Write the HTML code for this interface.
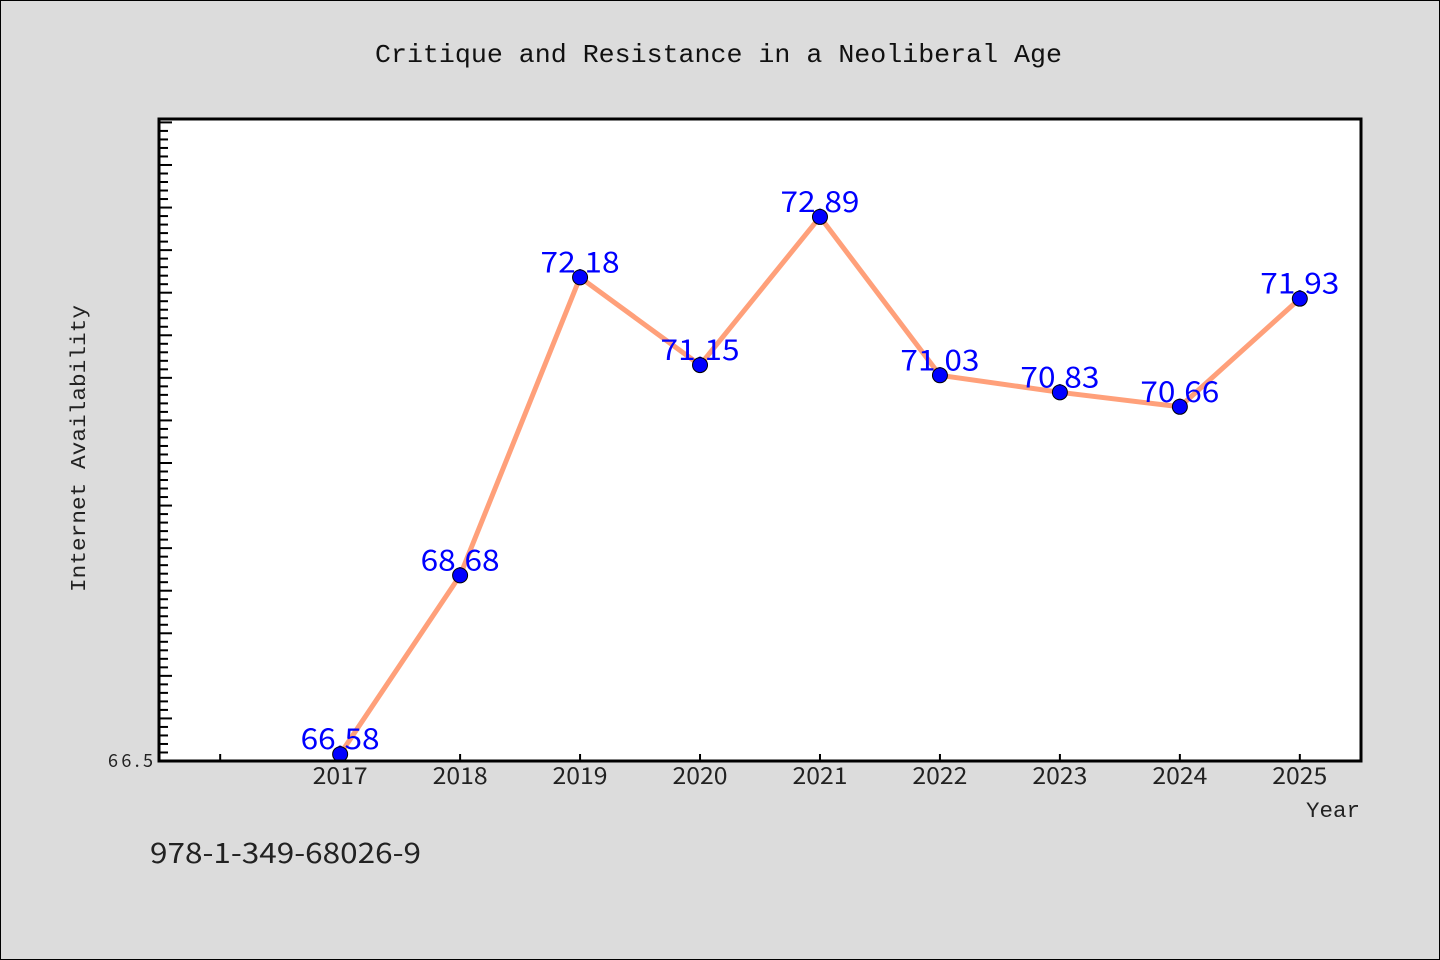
<!DOCTYPE html>
<html><head><meta charset="utf-8"><style>
html,body{margin:0;padding:0;background:#dcdcdc;}
svg{display:block;font-family:"WenQuanYi Zen Hei","Noto Sans CJK SC","Liberation Sans",sans-serif;}
.mono{font-family:"Liberation Mono","DejaVu Sans Mono",monospace;}
</style></head><body>
<svg id="chart" width="1440" height="960" xmlns="http://www.w3.org/2000/svg">
<rect x="0.5" y="0.5" width="1439" height="959" fill="#dcdcdc" stroke="#000"/>
<text class="mono" x="375" y="62" font-size="26" textLength="687" lengthAdjust="spacingAndGlyphs" fill="#111">Critique and Resistance in a Neoliberal Age</text>
<rect x="159" y="119" width="1202" height="642" fill="#fff"/>
<g id="ticks"></g>
<g id="series"></g>
<rect x="159" y="119" width="1202" height="642" fill="none" stroke="#000" stroke-width="3"/>
<text x="108" y="767" font-size="18" textLength="45" fill="#222">66.5</text>
<text class="mono" x="448" y="85" text-anchor="middle" font-size="21" textLength="287" lengthAdjust="spacingAndGlyphs" fill="#222" transform="rotate(-90 448 448) translate(0 0)"></text>
<text class="mono" x="0" y="0" font-size="21" textLength="287" lengthAdjust="spacingAndGlyphs" fill="#222" transform="translate(85 592) rotate(-90)">Internet Availability</text>
<text class="mono" x="1306" y="817" font-size="22" textLength="54" lengthAdjust="spacingAndGlyphs" fill="#222">Year</text>
<text x="150" y="863" font-size="28" textLength="271" lengthAdjust="spacingAndGlyphs" fill="#222">978-1-349-68026-9</text>
</svg>
<script>
const years=[2017,2018,2019,2020,2021,2022,2023,2024,2025];
const values=[66.58,68.68,72.18,71.15,72.89,71.03,70.83,70.66,71.93];
const labels=["66.58","68.68","72.18","71.15","72.89","71.03","70.83","70.66","71.93"];
const xTicks=[2016,2017,2018,2019,2020,2021,2022,2023,2024,2025];
const NS="http://www.w3.org/2000/svg";
const L=159,R=1361,T=119,B=761,xmin=2015.49,xmax=2025.51,ymin=66.5,ymax=74.04;
const xs=v=>L+(v-xmin)/(xmax-xmin)*(R-L);
const ys=v=>B-(v-ymin)/(ymax-ymin)*(B-T);
function mk(tag,attrs,parent){const e=document.createElementNS(NS,tag);for(const k in attrs)e.setAttribute(k,attrs[k]);parent.appendChild(e);return e;}
const tg=document.getElementById('ticks');
for(let i=1;;i++){const v=ymin+i*0.1;if(v>ymax)break;const y=ys(v);const major=i%5===0;
const t=mk('line',{x1:L,x2:L+(major?13:9),y1:y,y2:y,stroke:'#000','stroke-width':2},tg);

}
xTicks.forEach(v=>{const x=xs(v);
const t=mk('line',{x1:x,x2:x,y1:B,y2:B-7,stroke:'#000','stroke-width':2},tg);


if(v>=2017){const tx=mk('text',{x:x,y:B+23,'text-anchor':'middle','font-size':23,textLength:55,lengthAdjust:'spacingAndGlyphs',fill:'#222'},tg);tx.textContent=v;

}});
const sg=document.getElementById('series');
const pl=mk('polyline',{points:years.map((y,i)=>xs(y)+','+ys(values[i])).join(' '),fill:'none',stroke:'#ffa07a','stroke-width':5,'stroke-linejoin':'round'},sg);


years.forEach((y,i)=>{const cx=xs(y),cy=ys(values[i]);
const tx=mk('text',{x:cx,y:cy-5,'text-anchor':'middle','font-size':29,textLength:79,lengthAdjust:'spacingAndGlyphs',fill:'#0000ff'},sg);tx.textContent=labels[i];


const c=mk('circle',{cx:cx,cy:cy,r:7.5,fill:'#0000ff',stroke:'#000','stroke-width':1},sg);

});
</script>
</body></html>
